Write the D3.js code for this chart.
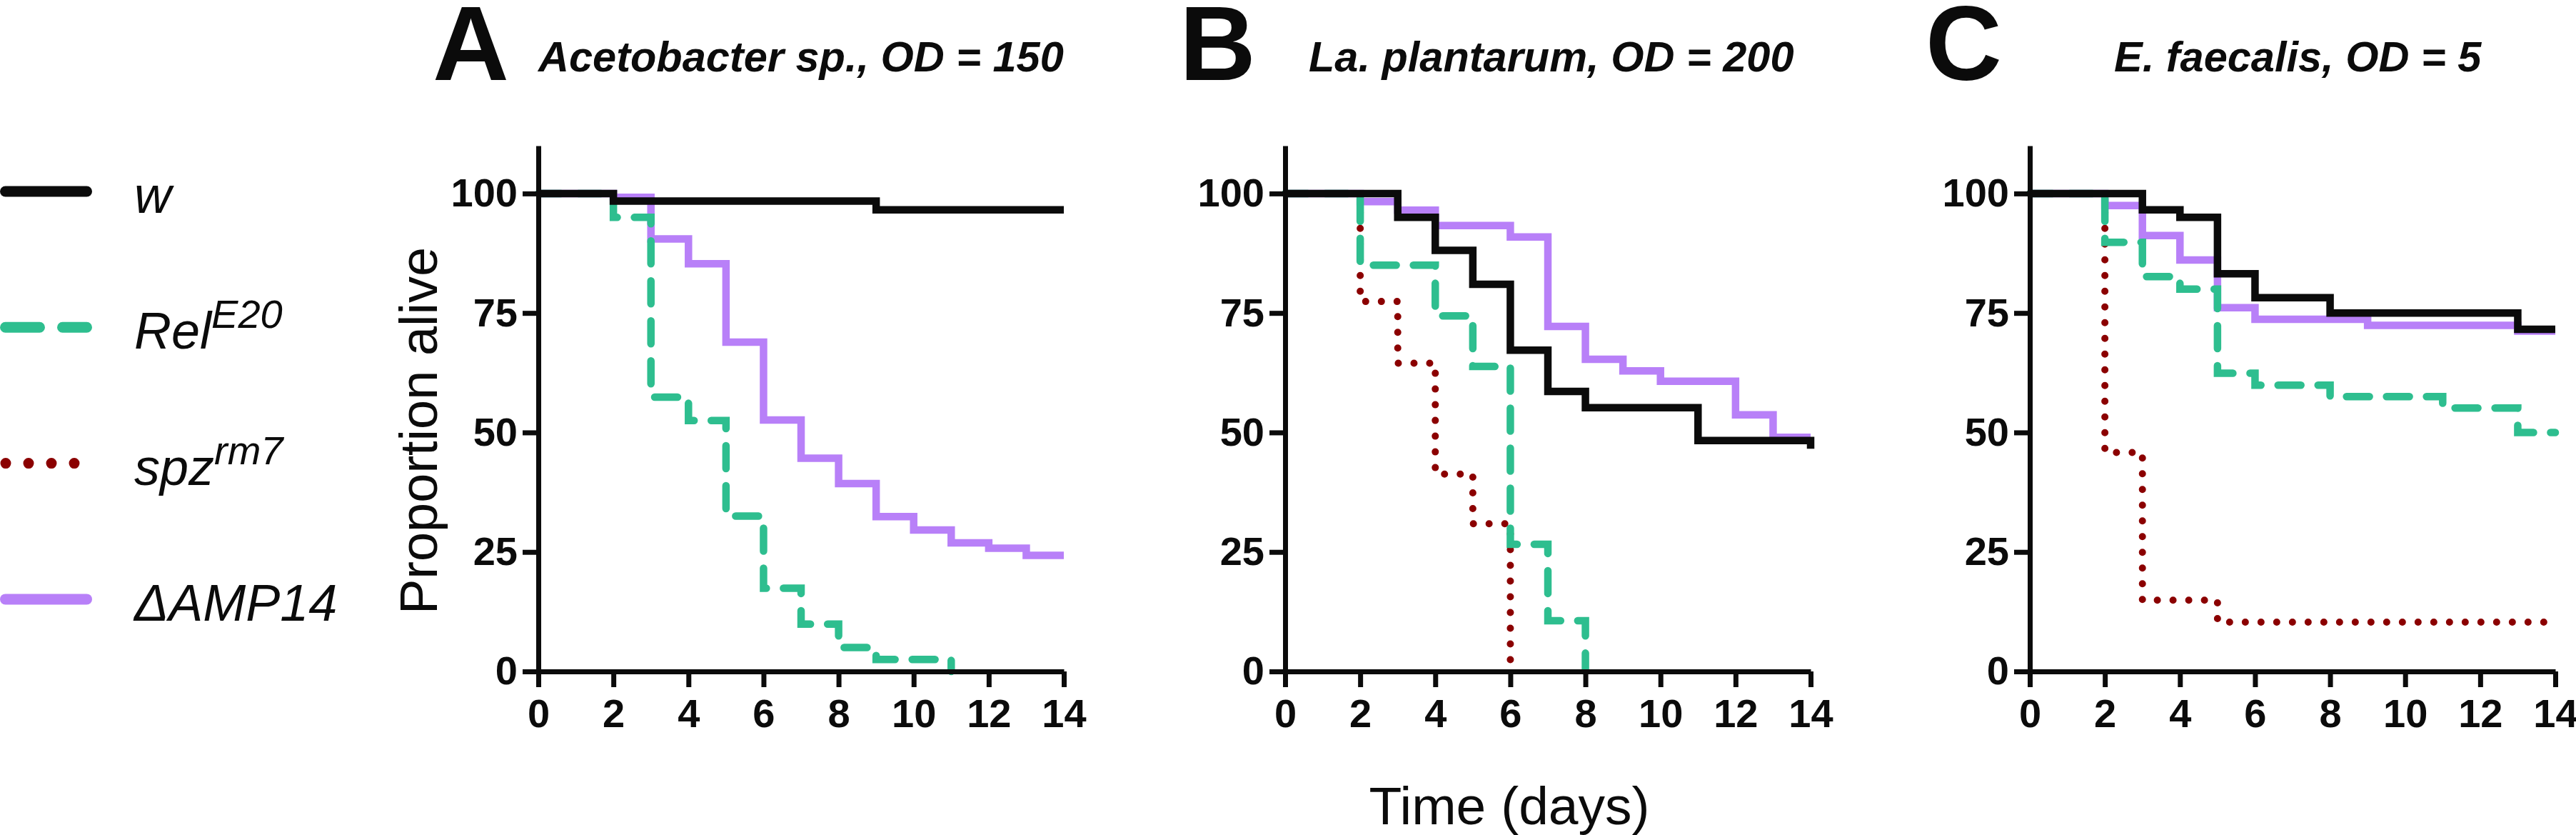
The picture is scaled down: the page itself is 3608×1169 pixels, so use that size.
<!DOCTYPE html>
<html>
<head>
<meta charset="utf-8">
<script src="https://cdn.jsdelivr.net/npm/d3@7"></script>
<style>
  body { margin: 0; background: #fff; }
  text { font-family: "Liberation Sans", Arial, sans-serif; fill: #0b0b0b; }
</style>
</head>
<body>
<div id="chart"></div>
<script>
var W = 3608,
    H = 1169;

// legend order; curves are drawn in reverse so w ends up on top
const strains = ["w", "Rel", "spz", "AMP14"];
const legendText = ["w", "Rel", "spz", "\u0394AMP14"];
const legendSup = ["", "E20", "rm7", ""];

const panelLetters = ["A", "B", "C"];
const panelTitles = ["Acetobacter sp., OD = 150", "La. plantarum, OD = 200", "E. faecalis, OD = 5"];
const xTicks = [0, 2, 4, 6, 8, 10, 12, 14];
const yTicks = [0, 25, 50, 75, 100];

// survival, [day, % alive] at every step
const acetoW   = [[0, 100], [2, 98.4], [9, 96.6], [14, 96.6]];
const acetoRel = [[0, 100], [2, 95.0], [3, 57.4], [4, 52.5], [5, 32.5], [6, 17.4], [7, 9.9], [8, 5.0], [9, 2.5], [11, 0]];
const acetoSpz = [];
const acetoAmp = [[0, 100], [2, 99.2], [3, 90.5], [4, 85.3], [5, 68.9], [6, 52.6], [7, 44.6], [8, 39.3], [9, 32.4], [10, 29.6], [11, 26.9], [12, 25.8], [13, 24.3], [14, 24.3]];

const plantW   = [[0, 100], [3, 95.0], [4, 88.1], [5, 81.0], [6, 67.2], [7, 58.6], [8, 55.2], [11, 48.3], [14, 46.6]];
const plantRel = [[0, 100], [2, 85.0], [4, 74.4], [5, 63.8], [6, 26.6], [7, 10.6], [8, 0]];
const plantSpz = [[0, 100], [2, 77.4], [3, 64.5], [4, 41.3], [5, 30.9], [6, 0]];
const plantAmp = [[0, 100], [2, 98.3], [3, 96.5], [4, 93.3], [6, 90.9], [7, 72.2], [8, 65.3], [9, 62.9], [10, 60.7], [12, 53.7], [13, 49.0], [14, 49.0]];

const faecW   = [[0, 100], [3, 96.6], [4, 95.0], [5, 83.2], [6, 78.2], [8, 75.0], [13, 71.6], [14, 71.6]];
const faecRel = [[0, 100], [2, 89.8], [3, 82.6], [4, 80.0], [5, 62.4], [6, 59.9], [8, 57.5], [11, 55.1], [13, 50.0], [14, 50.0]];
const faecSpz = [[0, 100], [2, 45.8], [3, 14.9], [5, 10.3], [14, 10.3]];
const faecAmp = [[0, 100], [2, 97.5], [3, 91.2], [4, 86.1], [5, 76.1], [6, 73.7], [9, 72.4], [13, 71.2], [14, 71.2]];

const panelData = [
  {w: acetoW, Rel: acetoRel, spz: acetoSpz, AMP14: acetoAmp},
  {w: plantW, Rel: plantRel, spz: plantSpz, AMP14: plantAmp},
  {w: faecW, Rel: faecRel, spz: faecSpz, AMP14: faecAmp}
];

const style = {
  w:     {color: "#0b0b0b", dash: null,    legendDash: null},
  Rel:   {color: "#2ebe8f", dash: "32,24", legendDash: "48,32"},
  spz:   {color: "#8b0000", dash: "0,22",  legendDash: "0,32"},
  AMP14: {color: "#b880f8", dash: null,    legendDash: null}
};

var panelX = [754, 1800, 2843],
    pw = 736,
    plotTop = 204,
    plotBottom = 940,
    letterX = [606, 1652, 2697],
    titleX = [754, 1833, 2961];

var svg = d3.select("#chart").append("svg")
    .attr("width", W)
    .attr("height", H);

var x = d3.scaleLinear().domain([0, 14]).range([0, pw]),
    y = d3.scaleLinear().domain([0, 110]).range([plotBottom, plotTop]);

var line = d3.line()
    .x(function(d) { return x(d[0]); })
    .y(function(d) { return y(d[1]); })
    .curve(d3.curveStepAfter);

panelX.forEach(function(x0, i) {
  var g = svg.append("g").attr("transform", "translate(" + x0 + ",0)");

  strains.slice().reverse().forEach(function(s) {
    var pts = panelData[i][s];
    if (!pts.length) return;
    g.append("path")
        .datum(pts)
        .attr("d", line)
        .attr("fill", "none")
        .attr("stroke", style[s].color)
        .attr("stroke-width", s === "spz" ? 10 : 10.5)
        .attr("stroke-dasharray", style[s].dash)
        .attr("stroke-linecap", style[s].dash ? "round" : "butt")
        .attr("stroke-linejoin", "miter");
  });

  var xa = g.append("g")
      .attr("transform", "translate(0," + plotBottom + ")")
      .call(d3.axisBottom(x).tickValues(xTicks).tickSize(22).tickSizeOuter(0).tickPadding(16));
  var ya = g.append("g")
      .call(d3.axisLeft(y).tickValues(yTicks).tickSize(22).tickSizeOuter(0).tickPadding(7));

  [xa, ya].forEach(function(a) {
    a.attr("font-family", null).attr("font-size", null);
    a.select(".domain").attr("stroke", "#0b0b0b").attr("stroke-width", 7);
    a.selectAll(".tick line").attr("stroke", "#0b0b0b").attr("stroke-width", 7);
    a.selectAll(".tick text")
        .style("font-size", "56px")
        .style("font-weight", "bold")
        .attr("fill", "#0b0b0b");
  });

  svg.append("text")
      .attr("x", letterX[i])
      .attr("y", 112)
      .style("font-size", "148px")
      .style("font-weight", "bold")
      .text(panelLetters[i]);

  svg.append("text")
      .attr("x", titleX[i])
      .attr("y", 100)
      .style("font-size", "59.5px")
      .style("font-weight", "bold")
      .style("font-style", "italic")
      .text(panelTitles[i]);
});

// axis titles
svg.append("text")
    .attr("transform", "translate(612,603) rotate(-90)")
    .attr("text-anchor", "middle")
    .style("font-size", "74px")
    .text("Proportion alive");

svg.append("text")
    .attr("x", 2114)
    .attr("y", 1154)
    .attr("text-anchor", "middle")
    .style("font-size", "75px")
    .text("Time (days)");

// legend
strains.forEach(function(s, i) {
  var ly = 268 + i * 190.3;
  var lg = svg.append("g").attr("transform", "translate(0," + ly + ")");
  lg.append("line")
      .attr("x1", s === "spz" ? 8 : 7.5)
      .attr("x2", 121.5)
      .attr("stroke", style[s].color)
      .attr("stroke-width", 15)
      .attr("stroke-linecap", "round")
      .attr("stroke-dasharray", style[s].legendDash);
  var t = lg.append("text")
      .attr("x", 188)
      .attr("y", 30)
      .style("font-size", "72px")
      .style("font-style", "italic");
  t.append("tspan").text(legendText[i]);
  if (legendSup[i]) {
    t.append("tspan")
        .attr("dy", -29)
        .style("font-size", "56px")
        .text(legendSup[i]);
  }
});
</script>
</body>
</html>
